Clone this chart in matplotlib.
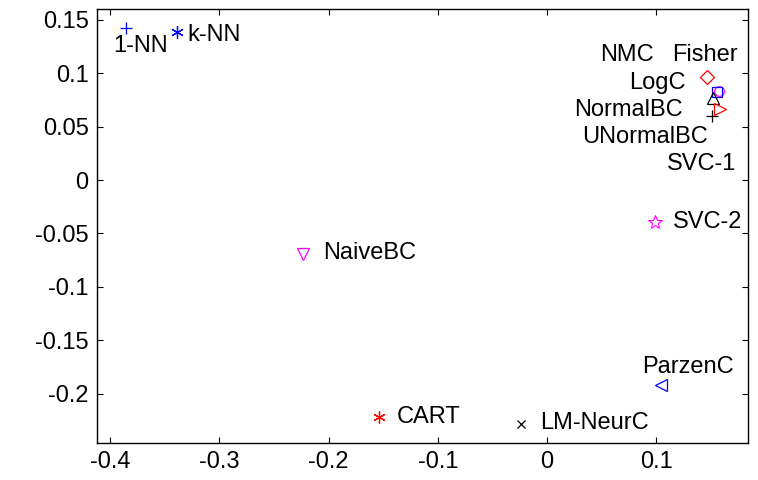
import matplotlib
matplotlib.use("Agg")
import matplotlib.pyplot as plt

# classifier names and 2-D embedding coordinates
names = ["1-NN", "k-NN", "NaiveBC", "CART", "LM-NeurC", "ParzenC", "SVC-2",
         "NMC", "Fisher", "LogC", "NormalBC", "UNormalBC", "SVC-1"]
xs = [-0.3854, -0.3387, -0.2233, -0.1538, -0.0238, 0.1043, 0.0989,
      0.1465, 0.1556, 0.1520, 0.1580, 0.1510, 0.1570]
ys = [0.1425, 0.1388, -0.0690, -0.2215, -0.2280, -0.1916, -0.0390,
      0.0967, 0.0826, 0.0770, 0.0667, 0.0601, 0.0830]

ASTER = (6, 2, 0)
# marker style per classifier: (marker, colour)
styles = {
    "1-NN": ("+", "#0000ff"), "k-NN": (ASTER, "#0000ff"),
    "NaiveBC": ("v", "#ff00ff"), "CART": (ASTER, "#ff0000"),
    "LM-NeurC": ("x", "black"), "ParzenC": ("<", "#0000ff"),
    "SVC-2": ("*", "#ff00ff"), "NMC": ("D", "#ff0000"),
    "Fisher": ("s", "#0000ff"), "LogC": ("^", "black"),
    "NormalBC": (">", "#ff0000"), "UNormalBC": ("+", "black"),
    "SVC-1": ("o", "#ff00ff"),
}
# label offsets in pixels (dx right, dy up) from the marker
offsets = {
    "1-NN": (-13, -18), "k-NN": (10, -3), "NaiveBC": (20, 1), "CART": (18, 0),
    "LM-NeurC": (19, 1), "ParzenC": (-19, 18), "SVC-2": (18, 0),
    "NMC": (-107, 22), "Fisher": (-45, 37), "LogC": (-84, 15),
    "NormalBC": (-145, -1), "UNormalBC": (-130, -21), "SVC-1": (-52, -73),
}

plt.rcParams["font.family"] = ["Liberation Sans", "DejaVu Sans"]

fig = plt.figure(figsize=(7.58, 4.8), dpi=100)
ax = fig.add_axes([97 / 758, 37 / 480, 651 / 758, 434 / 480])

draw_order = ["SVC-1"] + [n for n in names if n != "SVC-1"]
for n in draw_order:
    i = names.index(n)
    m, c = styles[n]
    if m == ASTER:
        ax.plot(xs[i], ys[i], marker=m, ms=9, mec=c, mew=0.9, ls="none")
    elif m == "*":
        ax.plot(xs[i], ys[i], marker=m, ms=10, mfc="none", mec=c,
                mew=0.8, ls="none")
    elif m == "x":
        ax.plot(xs[i], ys[i], marker=m, ms=6, mec=c, mew=0.9, ls="none")
    elif m in ("D", "s", "o"):
        ax.plot(xs[i], ys[i], marker=m, ms=7, mfc="none", mec=c,
                mew=0.9, ls="none")
    else:
        ax.plot(xs[i], ys[i], marker=m, ms=8, mfc="none", mec=c,
                mew=0.9, ls="none")

for i, n in enumerate(names):
    dx, dy = offsets[n]
    ax.annotate(n, (xs[i], ys[i]), xytext=(dx * 0.72, dy * 0.72),
                textcoords="offset points", ha="left", va="center",
                fontsize=17)

ax.set_xlim(-0.412, 0.184)
ax.set_ylim(-0.246, 0.160)
ax.set_xticks([-0.4, -0.3, -0.2, -0.1, 0, 0.1])
ax.set_xticklabels(["-0.4", "-0.3", "-0.2", "-0.1", "0", "0.1"])
ax.set_yticks([-0.2, -0.15, -0.1, -0.05, 0, 0.05, 0.1, 0.15])
ax.set_yticklabels(["-0.2", "-0.15", "-0.1", "-0.05", "0", "0.05", "0.1", "0.15"])
ax.tick_params(direction="in", top=True, right=True, length=4, width=0.8,
               labelsize=17, pad=6)
for s in ax.spines.values():
    s.set_linewidth(1.0)

fig.savefig("out.png", dpi=100)
